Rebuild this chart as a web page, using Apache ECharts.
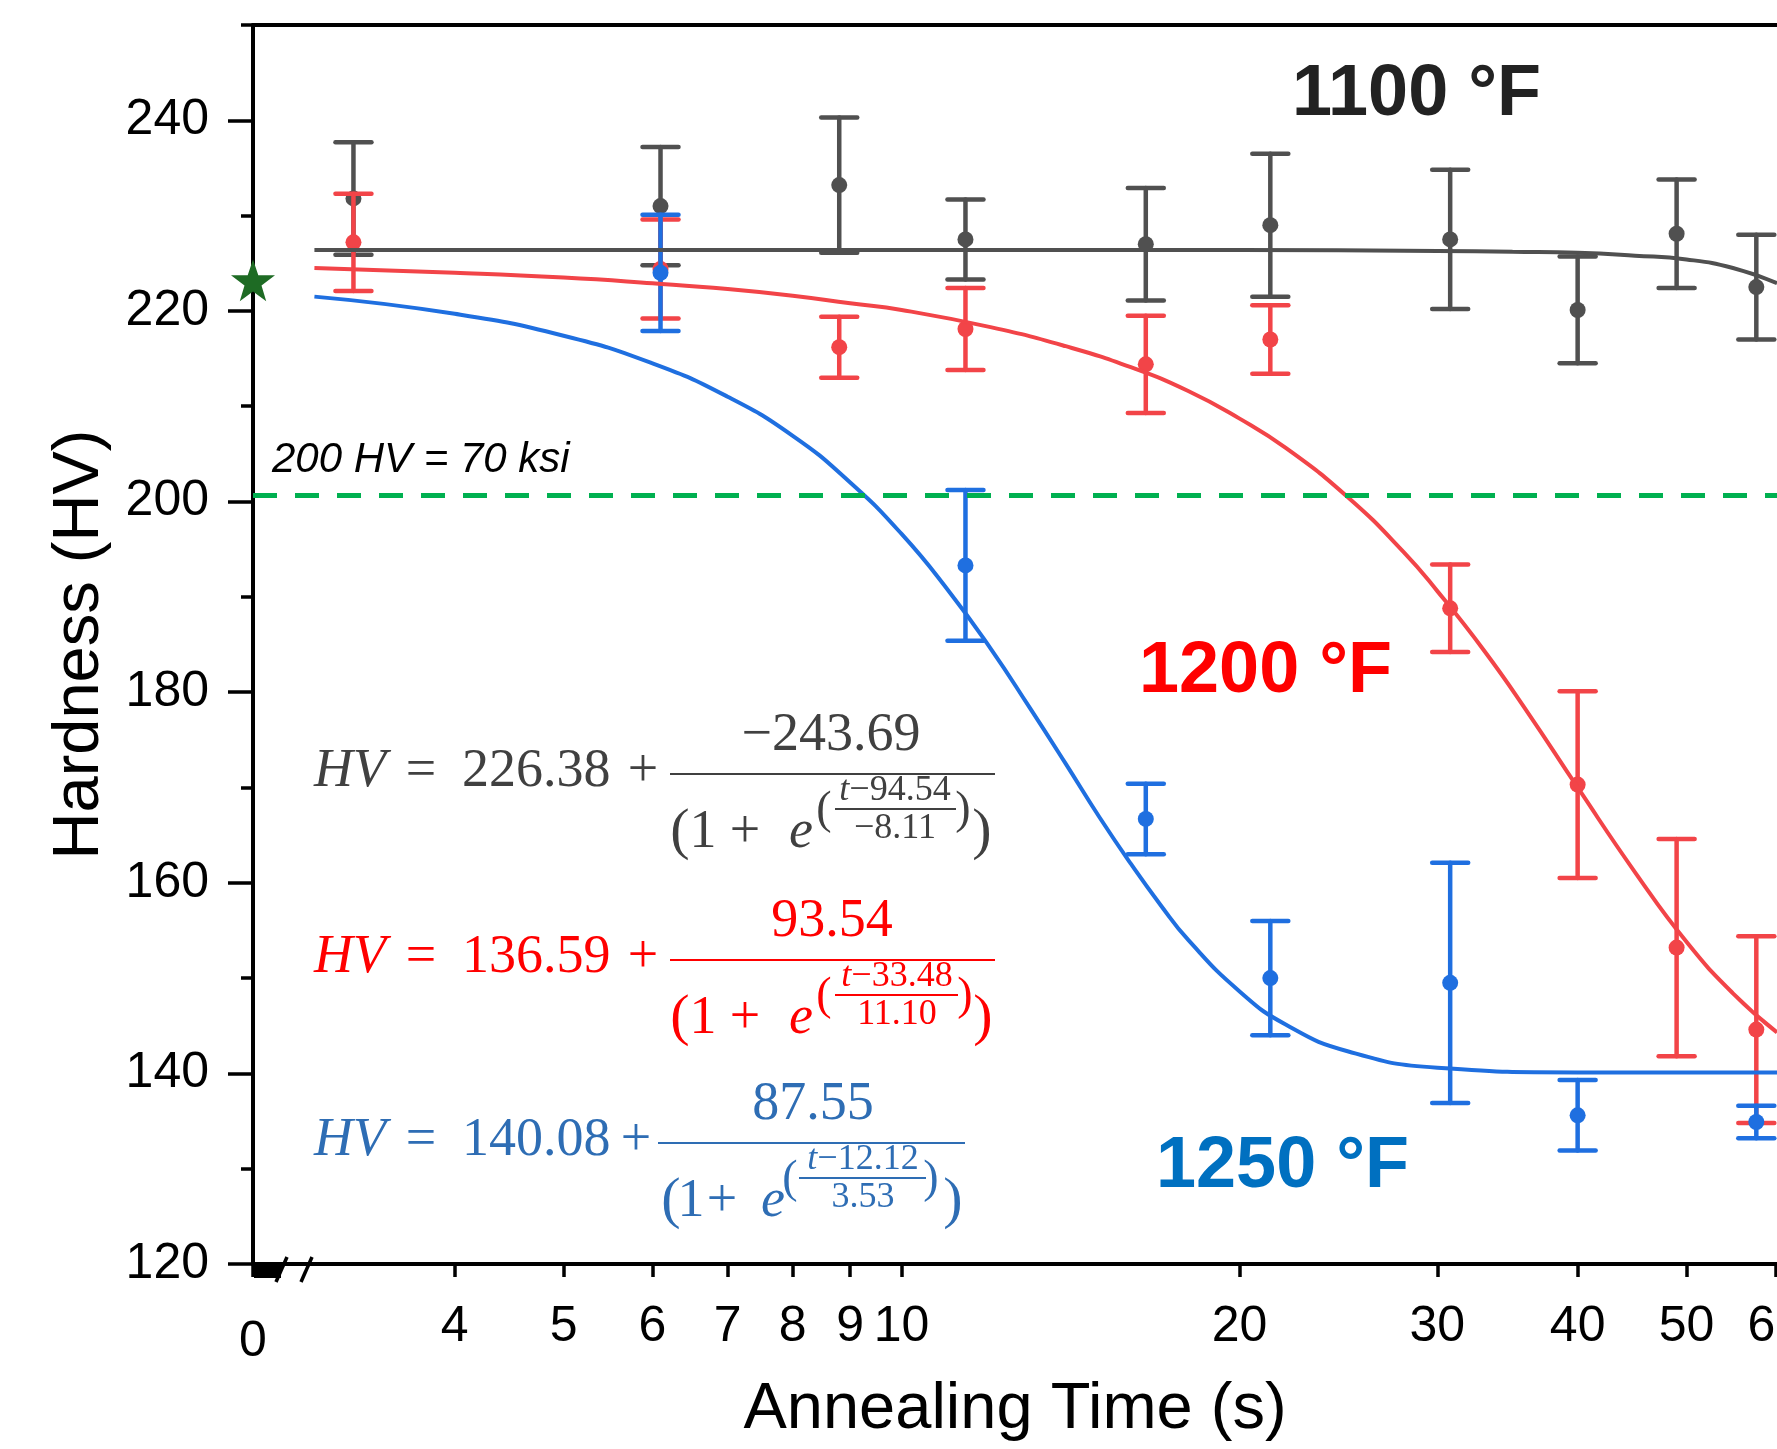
<!DOCTYPE html>
<html><head><meta charset="utf-8">
<script src="https://cdn.jsdelivr.net/npm/echarts@6/dist/echarts.min.js"></script>
<style>html,body{margin:0;padding:0;background:#fff}#c{width:1777px;height:1449px}</style>
</head><body><div id="c"></div>
<script>
// ---------- data ----------
const tickTimes = [4, 5, 6, 7, 8, 9, 10, 20, 30, 40, 50, 60];
const yTickLabels = [120, 140, 160, 180, 200, 220, 240];
const yMinorTicks = [130, 150, 170, 190, 210, 230, 250];
const axisZeroTime = 2.645;   // position of the broken-axis "0"
const axisMaxTime = 60.2;

const times1100 = [3.25, 6.1, 8.8, 11.4, 16.5, 21.3, 30.8, 40, 49, 57.7];
const hv1100   = [231.8, 231.0, 233.2, 227.5, 227.0, 229.0, 227.5, 220.1, 228.1, 222.5];
const err1100  = [5.9, 6.2, 7.1, 4.2, 5.9, 7.5, 7.3, 5.6, 5.7, 5.5];

const times1200 = [3.25, 6.1, 8.8, 11.4, 16.5, 21.3, 30.8, 40, 49, 57.7];
const hv1200   = [227.2, 224.4, 216.2, 218.1, 214.4, 217.0, 188.8, 170.3, 153.2, 144.6];
const err1200  = [5.1, 5.2, 3.2, 4.3, 5.1, 3.6, 4.6, 9.8, 11.4, 9.8];

const times1250 = [6.1, 11.4, 16.5, 21.3, 30.8, 40, 57.7];
const hv1250   = [224.0, 193.3, 166.7, 150.0, 149.5, 135.6, 134.9];
const err1250  = [6.1, 7.9, 3.7, 6.0, 12.6, 3.7, 1.7];

const fitT1100  = [3, 10, 20, 30, 35, 40, 45, 50, 55, 60.2];
const fitHv1100 = [226.4, 226.4, 226.4, 226.3, 226.2, 226.1, 225.8, 225.4, 224.5, 222.9];

const fitT1200  = [3, 4, 5, 6, 7, 8, 9, 10, 12, 14, 16, 18, 20, 22, 25, 28, 30, 33, 36, 40, 45, 50, 55, 60.2];
const fitHv1200 = [224.5, 224.0, 223.5, 222.9, 222.3, 221.6, 220.8, 220.1, 218.3, 216.3, 214.1, 211.6, 208.7, 205.6, 200.4, 194.7, 190.6, 184.4, 178.1, 170.0, 161.1, 153.8, 148.4, 144.3];

const fitT1250  = [3, 4, 5, 6, 7, 8, 9, 10, 11, 12, 13, 14, 15, 16, 17, 18, 20, 22, 25, 30, 40, 60.2];
const fitHv1250 = [221.5, 219.7, 217.4, 214.5, 211.0, 206.9, 202.0, 196.6, 190.7, 184.6, 178.4, 172.5, 166.9, 162.0, 157.7, 154.0, 148.6, 145.1, 142.3, 140.6, 140.1, 140.1];

const asReceivedHV = 223.2;
const thresholdHV = 200.65;

// ---------- styling ----------
const C_GRAY = '#505050', C_RED = '#f24448', C_BLUE = '#1f6fe0';
const SANS = '"Liberation Sans", Arial, sans-serif';
const SERIF = '"Liberation Serif", "DejaVu Serif", serif';
const lg = Math.log10;
const xMin = lg(axisZeroTime), xMax = lg(axisMaxTime);

function errData(ts, hv, er) {
  return ts.map((t, i) => [lg(t), hv[i], hv[i] - er[i], hv[i] + er[i]]);
}
function fitData(ts, hv) { return ts.map((t, i) => [lg(t), hv[i]]); }

function errRenderer(color) {
  return function (params, api) {
    const x = api.value(0), y = api.value(1), lo = api.value(2), hi = api.value(3);
    const pT = api.coord([x, hi]), pB = api.coord([x, lo]), pC = api.coord([x, y]);
    const hw = 18;
    const st = { stroke: color, lineWidth: 4.5, lineCap: 'round' };
    return { type: 'group', children: [
      { type: 'line', shape: { x1: pT[0], y1: pT[1], x2: pB[0], y2: pB[1] }, style: st },
      { type: 'line', shape: { x1: pT[0] - hw, y1: pT[1], x2: pT[0] + hw, y2: pT[1] }, style: st },
      { type: 'line', shape: { x1: pB[0] - hw, y1: pB[1], x2: pB[0] + hw, y2: pB[1] }, style: st },
      { type: 'circle', shape: { cx: pC[0], cy: pC[1], r: 8 }, style: { fill: color } }
    ]};
  };
}

function txt(x, y, text, font, fill, align, rich) {
  const st = { text: text, font: font, fill: fill, align: align || 'center', verticalAlign: 'middle',
               textAlign: align || 'center', textVerticalAlign: 'middle' };
  if (rich) st.rich = rich;
  return { type: 'text', x: x, y: y, style: st, z: 100 };
}
function ln(x1, y1, x2, y2, color, w) {
  return { type: 'line', shape: { x1: x1, y1: y1, x2: x2, y2: y2 }, style: { stroke: color, lineWidth: w || 2 }, z: 100 };
}

function equation(o) {
  const y = o.y, c = o.color;
  const main = '54px ' + SERIF, mainI = 'italic 54px ' + SERIF;
  const small = '36px ' + SERIF;
  const rich = { i: { font: 'italic 36px ' + SERIF, fill: c }, n: { font: small, fill: c } };
  return [
    txt(314, y, 'HV', mainI, c, 'left'),
    txt(421, y, '=', main, c),
    txt(462, y, o.c, main, c, 'left'),
    txt(o.plusX, y, '+', main, c),
    ln(o.bar[0], y + 2, o.bar[1], y + 2, c, 2),
    txt(o.numX, y - 36, o.num, main, c),
    txt(o.den[0], y + 61, '(', '58px ' + SERIF, c),
    txt(o.den[1], y + 61, '1', main, c),
    txt(o.den[2], y + 61, '+', main, c),
    txt(o.den[3], y + 61, 'e', mainI, c),
    txt(o.ep[0], y + 39, '(', '46px ' + SERIF, c),
    txt(o.eX, y + 19, '{i|t}{n|' + o.eNum + '}', small, c, 'center', rich),
    ln(o.eBar[0], y + 37, o.eBar[1], y + 37, c, 2),
    txt(o.eX, y + 57, o.eDen, small, c),
    txt(o.ep[1], y + 39, ')', '46px ' + SERIF, c),
    txt(o.ep[2], y + 61, ')', '58px ' + SERIF, c)
  ];
}

const graphics = [].concat(
  equation({ y: 772, color: '#404040', c: '226.38', plusX: 643, bar: [670, 995], numX: 831, num: '\u2212243.69',
             den: [680, 703, 745, 801], ep: [824, 963, 982], eX: 895, eNum: '\u221294.54', eBar: [835, 956], eDen: '\u22128.11' }),
  equation({ y: 958, color: '#ff0000', c: '136.59', plusX: 643, bar: [670, 995], numX: 832, num: '93.54',
             den: [680, 703, 745, 801], ep: [824, 965, 983], eX: 897, eNum: '\u221233.48', eBar: [835, 958], eDen: '11.10' }),
  equation({ y: 1141, color: '#2e6db4', c: '140.08', plusX: 636, bar: [658, 965], numX: 813, num: '87.55',
             den: [671, 691, 722, 773], ep: [790, 931, 953], eX: 863, eNum: '\u221212.12', eBar: [799, 926], eDen: '3.53' }),
  [
    txt(1292, 95, '1100 \u00b0F', 'bold 72px ' + SANS, '#222222', 'left'),
    txt(1139, 672, '1200 \u00b0F', 'bold 72px ' + SANS, '#ff0000', 'left'),
    txt(1156, 1167, '1250 \u00b0F', 'bold 72px ' + SANS, '#0070c0', 'left'),
    txt(272, 460, '200 HV = 70 ksi', 'italic 42px ' + SANS, '#000000', 'left'),
    // axis break decoration
    { type: 'rect', shape: { x: 254, y: 1265, width: 27, height: 13 }, style: { fill: '#000' }, z: 100 },
    ln(276, 1282, 287, 1257, '#000', 3.5),
    ln(301, 1282, 312, 1257, '#000', 3.5)
  ]
);

const chart = echarts.init(document.getElementById('c'), null, { renderer: 'canvas' });
chart.setOption({
  animation: false,
  backgroundColor: '#ffffff',
  grid: { left: 253, top: 25, right: 0, bottom: 185, containLabel: false, outerBoundsMode: 'none' },
  xAxis: [
    { type: 'value', min: xMin, max: xMax, position: 'bottom',
      axisLine: { show: true, onZero: false, lineStyle: { color: '#000', width: 4 } },
      axisTick: { show: true, customValues: [xMin].concat(tickTimes.map(lg)), length: 13, lineStyle: { color: '#000', width: 3.5 } },
      axisLabel: { customValues: [xMin].concat(tickTimes.map(lg)), fontSize: 50, color: '#000', fontFamily: SANS, margin: 38,
        hideOverlap: false, showMinLabel: true, showMaxLabel: true,
        formatter: function (v) { return Math.abs(v - xMin) < 1e-6 ? '{z|0}' : String(Math.round(Math.pow(10, v))); },
        rich: { z: { fontSize: 50, lineHeight: 80, fontFamily: SANS, color: '#000' } } },
      splitLine: { show: false },
      name: 'Annealing Time (s)', nameLocation: 'middle', nameGap: 114,
      nameTextStyle: { fontSize: 65, color: '#000', fontFamily: SANS } },
    { type: 'value', min: xMin, max: xMax, position: 'top',
      axisLine: { show: true, onZero: false, lineStyle: { color: '#000', width: 4 } },
      axisTick: { show: false }, axisLabel: { show: false }, splitLine: { show: false } }
  ],
  yAxis: [
    { type: 'value', min: 120, max: 250, position: 'left',
      axisLine: { show: true, onZero: false, lineStyle: { color: '#000', width: 4 } },
      axisTick: { show: true, customValues: yTickLabels, length: 25, lineStyle: { color: '#000', width: 3.5 } },
      axisLabel: { customValues: yTickLabels, fontSize: 50, color: '#000', fontFamily: SANS, margin: 44 },
      splitLine: { show: false },
      name: 'Hardness (HV)', nameLocation: 'middle', nameGap: 140,
      nameTextStyle: { fontSize: 65, color: '#000', fontFamily: SANS } },
    { type: 'value', min: 120, max: 250, position: 'left',
      axisLine: { show: false },
      axisTick: { show: true, customValues: yMinorTicks, length: 12, lineStyle: { color: '#000', width: 3.5 } },
      axisLabel: { show: false }, splitLine: { show: false } }
  ],
  series: [
    { type: 'custom', name: '1100 err', renderItem: errRenderer(C_GRAY), data: errData(times1100, hv1100, err1100),
      encode: { x: 0, y: [1, 2, 3] }, z: 3 },
    { type: 'custom', name: '1200 err', renderItem: errRenderer(C_RED), data: errData(times1200, hv1200, err1200),
      encode: { x: 0, y: [1, 2, 3] }, z: 3 },
    { type: 'custom', name: '1250 err', renderItem: errRenderer(C_BLUE), data: errData(times1250, hv1250, err1250),
      encode: { x: 0, y: [1, 2, 3] }, z: 3 },
    { type: 'line', name: '1100 fit', data: fitData(fitT1100, fitHv1100), smooth: 0.5,
      showSymbol: false, symbol: 'none', lineStyle: { color: C_GRAY, width: 4 }, z: 4,
      markLine: { silent: true, symbol: ['none', 'none'], label: { show: false },
        lineStyle: { color: '#00b050', width: 5, type: [24, 18] }, data: [{ yAxis: thresholdHV }] } },
    { type: 'line', name: '1200 fit', data: fitData(fitT1200, fitHv1200), smooth: 0.5,
      showSymbol: false, symbol: 'none', lineStyle: { color: C_RED, width: 4 }, z: 4 },
    { type: 'line', name: '1250 fit', data: fitData(fitT1250, fitHv1250), smooth: 0.5,
      showSymbol: false, symbol: 'none', lineStyle: { color: C_BLUE, width: 4 }, z: 4 },
    { type: 'scatter', name: 'as received', data: [[xMin, asReceivedHV]], clip: false,
      symbol: 'path://M50,0 L61.8,35.1 L98.9,35.1 L68.9,57.6 L79.4,92.7 L50,71 L20.6,92.7 L31.1,57.6 L1.1,35.1 L38.2,35.1 Z',
      symbolSize: 44, symbolKeepAspect: true, itemStyle: { color: '#1e6b24', opacity: 1 }, z: 6 }
  ],
  graphic: { elements: graphics }
});
</script>
</body></html>
